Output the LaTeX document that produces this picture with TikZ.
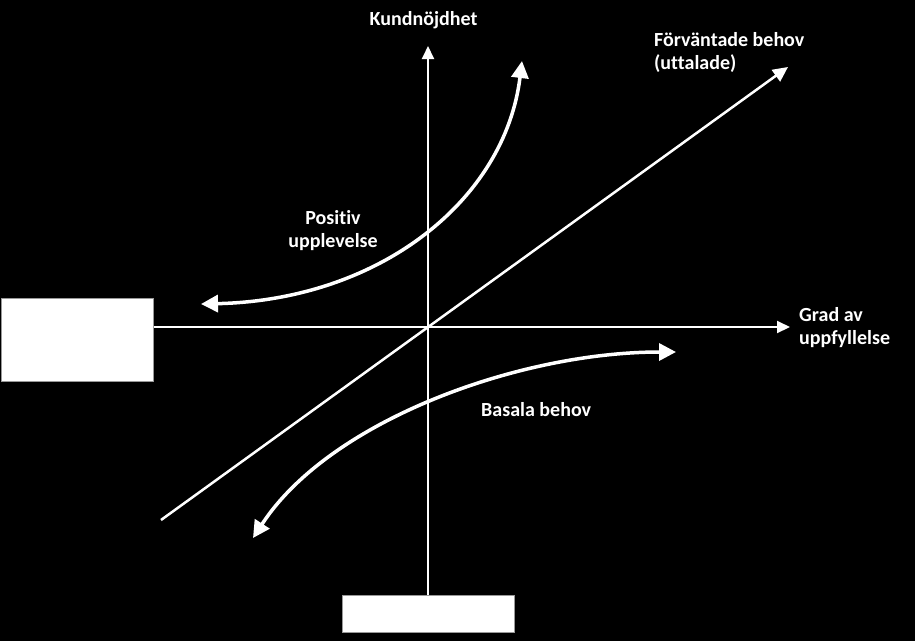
\documentclass[tikz,border=0pt]{standalone}
\usepackage{fontspec}
\setmainfont{Carlito}[Ligatures=NoCommon]
\usetikzlibrary{arrows.meta}

\begin{document}
\begin{tikzpicture}[x=1pt, y=-1pt,
    axis/.style={white, line width=2pt, -{Triangle[length=13pt, width=12pt]}},
    curve/.style={white, line width=3.5pt, {Triangle[length=17pt, width=17pt]}-{Triangle[length=17pt, width=17pt]}},
    label/.style={text=white, font=\fontsize{20}{23}\selectfont\bfseries, inner sep=0pt},
    whitebox/.style={fill=white, draw=gray!80, line width=1pt, inner sep=0pt}]
    % 1. bakgrund
    \fill[black] (0,0) rectangle (915,641);
    \useasboundingbox (0,0) rectangle (915,641);

    % 2. vita rutor
    \node[whitebox, minimum width=152pt, minimum height=83pt] (lbox) at (77,339.5) {};
    \node[whitebox, minimum width=172pt, minimum height=37pt] (botbox) at (428,613.5) {};

    % 3. axlar
    \coordinate (o) at (428,327);
    \coordinate (xend) at (790,327);
    \coordinate (yend) at (428,46);
    \draw[axis] (lbox.east |- o) -- (xend);
    \draw[axis] (botbox.north) -- (yend);

    % 4. diagonal (förväntade behov)
    \coordinate (dstart) at (161,520);
    \coordinate (dend) at (788,67);
    \draw[white, line width=2.5pt, -{Triangle[length=15pt, width=14pt]}] (dstart) -- (dend);

    % 5. kurvor
    \coordinate (pstart) at (201,304);
    \coordinate (pend) at (522,61);
    \draw[curve] (pstart) .. controls (380,300) and (505,200) .. (pend);
    \coordinate (bstart) at (253,538);
    \coordinate (bend) at (676,352);
    \draw[curve] (bstart) .. controls (330,420) and (520,352) .. (bend);

    % 6. texter
    \node[label, anchor=base] (kund) at (423.5,25) {Kundnöjdhet};
    \node[label, anchor=north west, align=left] (forv) at (654,32) {Förväntade behov\\(uttalade)};
    \node[label, anchor=north, align=center] (posit) at (333,210) {Positiv\\upplevelse};
    \node[label, anchor=north west, align=left] (grad) at (799,307) {Grad av\\uppfyllelse};
    \node[label, anchor=base west] (basal) at (481,416) {Basala behov};
\end{tikzpicture}
\end{document}
